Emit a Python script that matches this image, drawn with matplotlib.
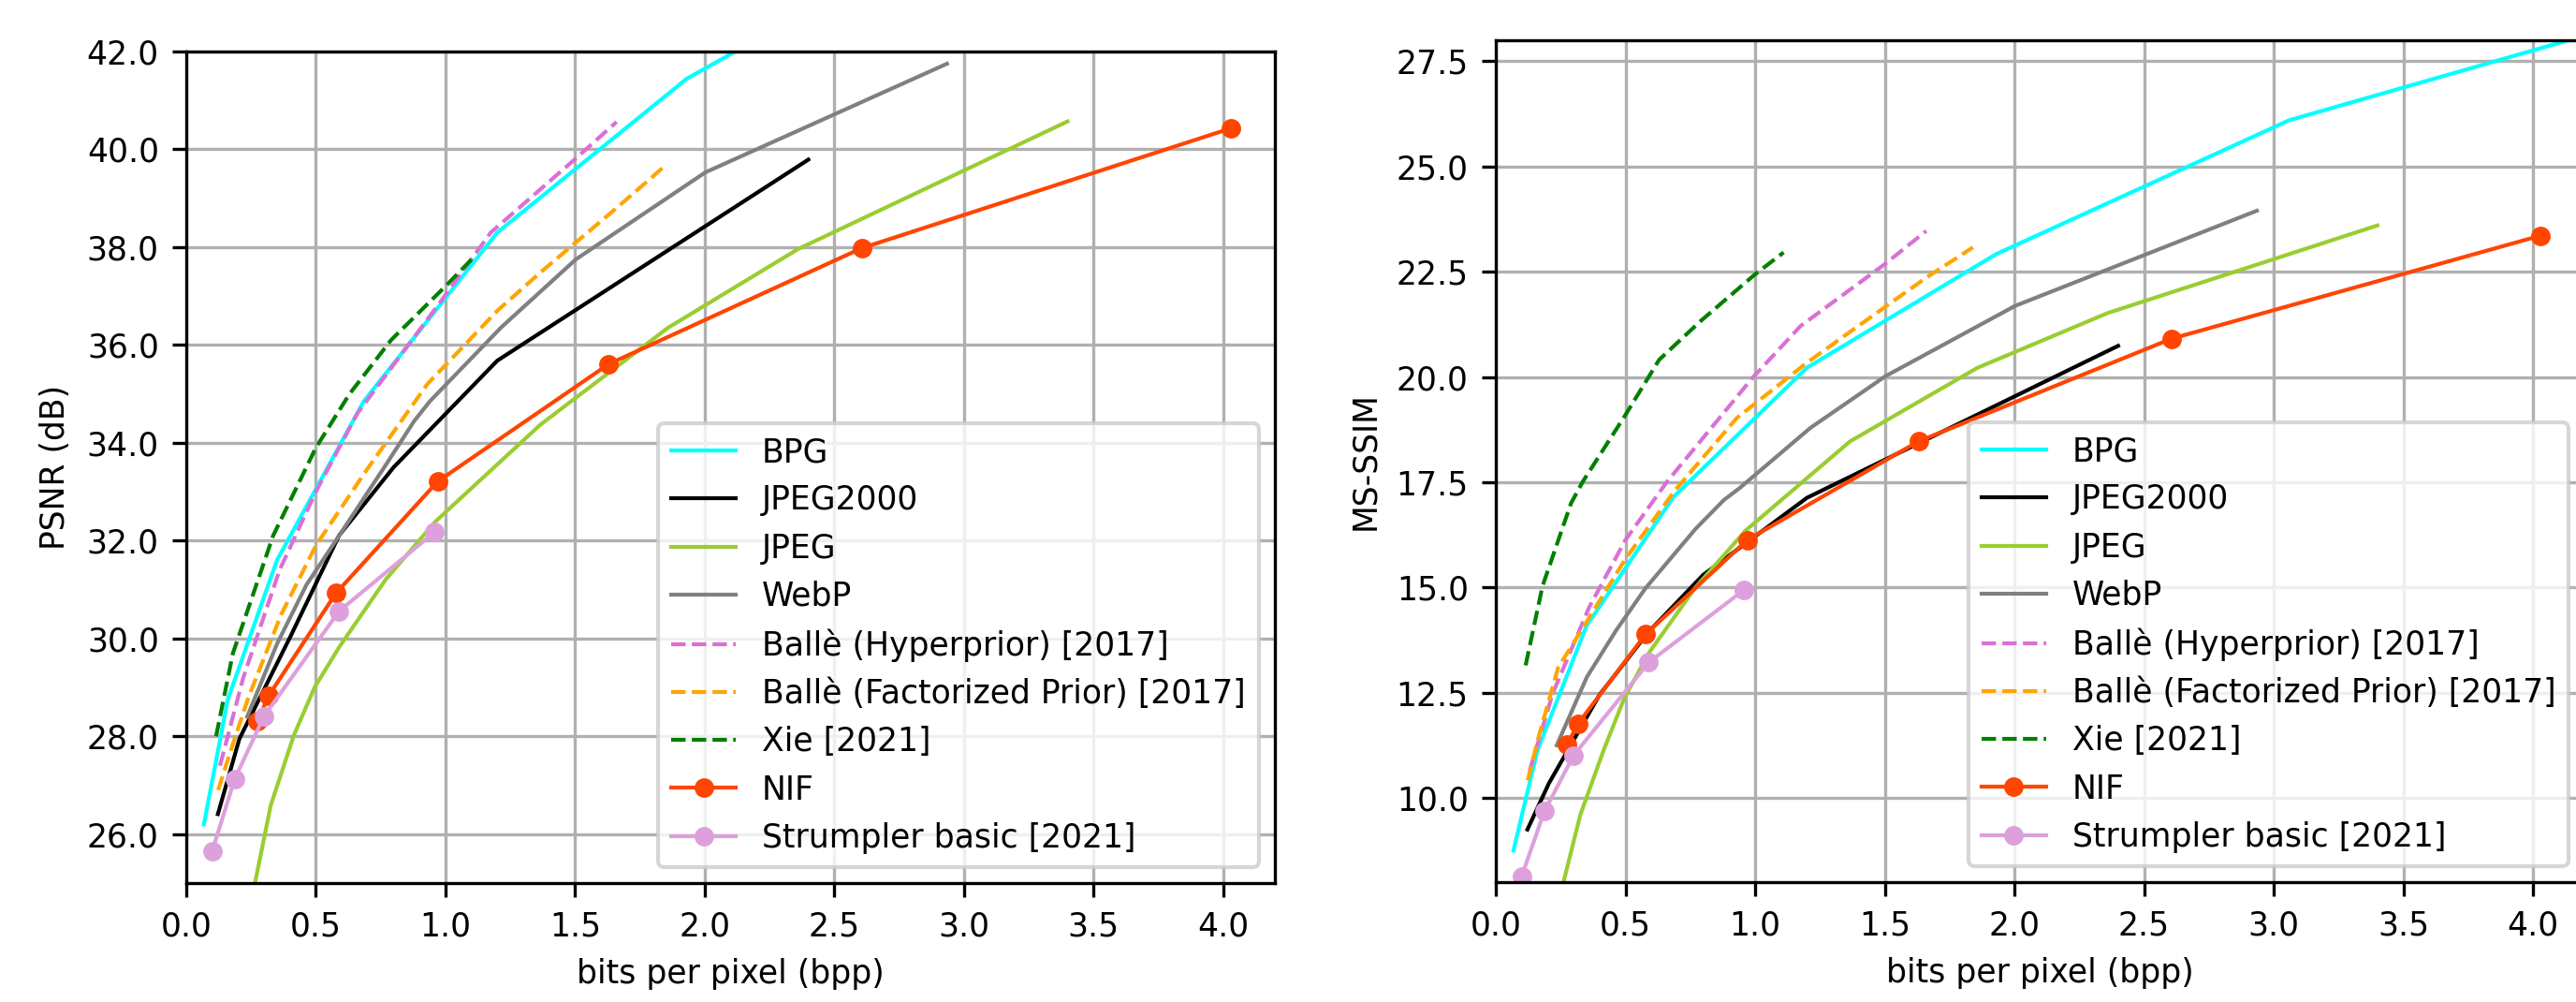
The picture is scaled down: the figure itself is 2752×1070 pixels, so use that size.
import matplotlib
matplotlib.use('Agg')
from matplotlib import pyplot as plt
from matplotlib.ticker import FormatStrFormatter

plt.rcParams['font.size'] = 8.3

# BPG
bpg_bpp = [0.068, 0.16, 0.35, 0.685, 1.2, 1.93, 3.06, 4.25]
bpg_psnr = [26.2, 28.75, 31.6, 34.85, 38.3, 41.44, 44.8, 47.5]
bpg_ssim = [8.75, 11.12, 14.09, 17.15, 20.22, 22.92, 26.1, 28.2]

# JPEG2000
j2k_bpp = [0.122, 0.205, 0.4, 0.59, 0.8, 1.2, 2.4]
j2k_psnr = [26.41, 27.95, 30.02, 32.11, 33.5, 35.68, 39.79]
j2k_ssim = [9.25, 10.35, 12.45, 13.95, 15.3, 17.13, 20.74]

# JPEG
jpeg_bpp = [0.2, 0.326, 0.415, 0.496, 0.592, 0.77, 0.963, 1.366, 1.858, 2.36, 3.40]
jpeg_psnr = [23.3, 26.59, 28.02, 29.01, 29.84, 31.21, 32.4, 34.37, 36.35, 37.96, 40.57]
jpeg_ssim = [6.5, 9.6, 11.12, 12.38, 13.46, 15.0, 16.35, 18.47, 20.22, 21.52, 23.6]

# WebP
webp_bpp = [0.235, 0.351, 0.464, 0.577, 0.77, 0.88, 0.94, 1.213, 1.503, 2.003, 2.935]
webp_psnr = [28.4, 29.9, 31.1, 32.0, 33.55, 34.45, 34.85, 36.35, 37.75, 39.53, 41.75]
webp_ssim = [11.25, 12.87, 13.98, 14.98, 16.39, 17.08, 17.36, 18.79, 20.02, 21.69, 23.95]

# Balle hyperprior
hyper_bpp = [0.13, 0.22, 0.36, 0.5, 0.66, 0.99, 1.175, 1.5, 1.66]
hyper_psnr = [27.4, 29.2, 31.4, 33.0, 34.6, 36.95, 38.3, 39.8, 40.56]
hyper_ssim = [10.64, 12.49, 14.53, 16.13, 17.51, 19.98, 21.21, 22.68, 23.47]

# Balle factorized prior
fact_bpp = [0.123, 0.165, 0.24, 0.367, 0.5, 0.69, 0.93, 1.2, 1.37, 1.66, 1.84]
fact_psnr = [26.9, 27.6, 28.8, 30.5, 31.9, 33.4, 35.2, 36.7, 37.5, 38.8, 39.63]
fact_ssim = [10.42, 11.45, 13.09, 14.35, 15.68, 17.3, 19.03, 20.34, 21.09, 22.36, 23.08]

# Xie
xie_bpp = [0.115, 0.18, 0.29, 0.335, 0.5, 0.63, 0.79, 1.0, 1.11]
xie_psnr = [28.0, 29.7, 31.4, 32.1, 33.9, 35.0, 36.1, 37.2, 37.8]
xie_ssim = [13.15, 15.03, 17.0, 17.51, 19.1, 20.41, 21.33, 22.44, 22.96]

# NIF
nif_bpp = [0.275, 0.318, 0.578, 0.97, 1.63, 2.606, 4.03]
nif_psnr = [28.31, 28.83, 30.93, 33.21, 35.61, 37.98, 40.43]
nif_ssim = [11.27, 11.77, 13.89, 16.13, 18.47, 20.91, 23.36]

# Strumpler basic
strum_bpp = [0.1, 0.187, 0.3, 0.59, 0.957]
strum_psnr = [25.65, 27.13, 28.41, 30.56, 32.17]
strum_ssim = [8.14, 9.68, 11.01, 13.22, 14.94]

labels = ['BPG', 'JPEG2000', 'JPEG', 'WebP', 'Ballè (Hyperprior) [2017]',
          'Ballè (Factorized Prior) [2017]', 'Xie [2021]', 'NIF', 'Strumpler basic [2021]']

fig = plt.figure(figsize=(2753 / 300, 1070 / 300), dpi=300)
ax1 = fig.add_axes([0.07228, 0.11869, 0.42245, 0.82991])
ax2 = fig.add_axes([0.58046, 0.11963, 0.4226, 0.84019])


def draw(ax, key):
    ax.plot(bpg_bpp, bpg_psnr if key == 0 else bpg_ssim, color='cyan', lw=1, label=labels[0])
    ax.plot(j2k_bpp, j2k_psnr if key == 0 else j2k_ssim, color='black', lw=1, label=labels[1])
    ax.plot(jpeg_bpp, jpeg_psnr if key == 0 else jpeg_ssim, color='yellowgreen', lw=1, label=labels[2])
    ax.plot(webp_bpp, webp_psnr if key == 0 else webp_ssim, color='gray', lw=1, label=labels[3])
    ax.plot(hyper_bpp, hyper_psnr if key == 0 else hyper_ssim, '--', color='orchid', lw=1, label=labels[4])
    ax.plot(fact_bpp, fact_psnr if key == 0 else fact_ssim, '--', color='orange', lw=1, label=labels[5])
    ax.plot(xie_bpp, xie_psnr if key == 0 else xie_ssim, '--', color='green', lw=1, label=labels[6])
    ax.plot(nif_bpp, nif_psnr if key == 0 else nif_ssim, 'o-', color='orangered', lw=1, ms=4, label=labels[7])
    ax.plot(strum_bpp, strum_psnr if key == 0 else strum_ssim, 'o-', color='plum', lw=1, ms=4, label=labels[8])
    ax.grid(True)
    ax.set_xlim(0, 4.2)
    ax.set_xlabel('bits per pixel (bpp)')
    ax.legend(loc='lower right')


draw(ax1, 0)
ax1.set_ylim(25, 42)
ax1.set_yticks([26, 28, 30, 32, 34, 36, 38, 40, 42])
ax1.yaxis.set_major_formatter(FormatStrFormatter('%.1f'))
ax1.set_ylabel('PSNR (dB)')

draw(ax2, 1)
ax2.set_ylim(8, 28)
ax2.set_yticks([10, 12.5, 15, 17.5, 20, 22.5, 25, 27.5])
ax2.yaxis.set_major_formatter(FormatStrFormatter('%.1f'))
ax2.set_ylabel('MS-SSIM')

fig.savefig('out.png', dpi=300)
